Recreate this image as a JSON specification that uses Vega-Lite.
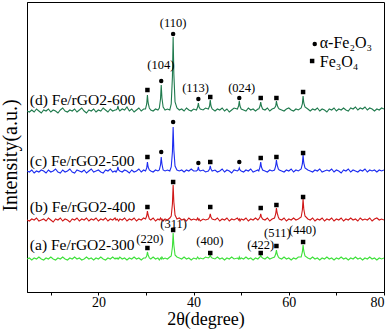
{
  "$schema": "https://vega.github.io/schema/vega-lite/v6.json",
  "width": 357,
  "height": 290,
  "autosize": {"type": "none"},
  "padding": {"left": 27, "top": 2, "right": 8, "bottom": 37},
  "background": "white",
  "config": {
    "view": {"stroke": "black", "strokeWidth": 1},
    "font": "Liberation Serif"
  },
  "datasets": {
    "xrd": [
      {"x":5.0,"a":33,"b":72,"c":121,"d":181},
      {"x":5.5,"a":34,"b":71,"c":120,"d":180},
      {"x":6.0,"a":32,"b":73,"c":122,"d":182},
      {"x":6.5,"a":34,"b":72,"c":119,"d":180},
      {"x":7.0,"a":33,"b":74,"c":121,"d":183},
      {"x":7.5,"a":35,"b":71,"c":120,"d":181},
      {"x":8.0,"a":33,"b":72,"c":122,"d":179},
      {"x":8.5,"a":32,"b":73,"c":121,"d":182},
      {"x":9.0,"a":34,"b":71,"c":119,"d":181},
      {"x":9.5,"a":33,"b":74,"c":122,"d":183},
      {"x":10.0,"a":35,"b":72,"c":120,"d":180},
      {"x":10.5,"a":33,"b":70,"c":121,"d":182},
      {"x":11.0,"a":32,"b":73,"c":123,"d":181},
      {"x":11.5,"a":34,"b":72,"c":120,"d":179},
      {"x":12.0,"a":33,"b":74,"c":119,"d":182},
      {"x":12.5,"a":35,"b":71,"c":122,"d":184},
      {"x":13.0,"a":33,"b":73,"c":120,"d":181},
      {"x":13.5,"a":32,"b":72,"c":121,"d":180},
      {"x":14.0,"a":34,"b":70,"c":123,"d":182},
      {"x":14.5,"a":33,"b":73,"c":120,"d":181},
      {"x":15.0,"a":35,"b":72,"c":119,"d":183},
      {"x":15.5,"a":33,"b":74,"c":122,"d":180},
      {"x":16.0,"a":34,"b":71,"c":121,"d":182},
      {"x":16.5,"a":32,"b":73,"c":120,"d":184},
      {"x":17.0,"a":33,"b":72,"c":122,"d":181},
      {"x":17.5,"a":35,"b":74,"c":119,"d":179},
      {"x":18.0,"a":33,"b":71,"c":121,"d":182},
      {"x":18.5,"a":34,"b":73,"c":123,"d":181},
      {"x":19.0,"a":32,"b":72,"c":120,"d":183},
      {"x":19.5,"a":34,"b":74,"c":121,"d":180},
      {"x":20.0,"a":33,"b":71,"c":122,"d":182},
      {"x":20.5,"a":35,"b":73,"c":120,"d":181},
      {"x":21.0,"a":33,"b":72,"c":119,"d":184},
      {"x":21.5,"a":32,"b":74,"c":122,"d":182},
      {"x":22.0,"a":34,"b":71,"c":121,"d":180},
      {"x":22.5,"a":33,"b":73,"c":123,"d":183},
      {"x":23.0,"a":35,"b":72,"c":120,"d":181},
      {"x":23.5,"a":33,"b":74,"c":121,"d":182},
      {"x":23.7,"a":34,"b":72,"c":120,"d":182},
      {"x":23.95,"a":33,"b":73,"c":122,"d":183},
      {"x":24.1,"a":34,"b":72,"c":125,"d":186},
      {"x":24.25,"a":33,"b":71,"c":122,"d":183},
      {"x":24.5,"a":35,"b":73,"c":121,"d":181},
      {"x":25.0,"a":33,"b":72,"c":120,"d":183},
      {"x":25.5,"a":34,"b":74,"c":122,"d":182},
      {"x":26.0,"a":32,"b":71,"c":121,"d":185},
      {"x":26.5,"a":34,"b":73,"c":119,"d":181},
      {"x":27.0,"a":33,"b":72,"c":122,"d":183},
      {"x":27.5,"a":35,"b":74,"c":120,"d":180},
      {"x":28.0,"a":33,"b":71,"c":121,"d":182},
      {"x":28.5,"a":34,"b":73,"c":123,"d":184},
      {"x":29.0,"a":32,"b":72,"c":120,"d":181},
      {"x":29.5,"a":34,"b":74,"c":122,"d":183},
      {"x":29.9,"a":34,"b":73,"c":121,"d":183},
      {"x":30.15,"a":36,"b":76,"c":124,"d":188},
      {"x":30.3,"a":40,"b":81,"c":130,"d":197},
      {"x":30.45,"a":37,"b":77,"c":125,"d":189},
      {"x":30.7,"a":34,"b":73,"c":122,"d":184},
      {"x":31.0,"a":33,"b":72,"c":121,"d":182},
      {"x":31.5,"a":35,"b":74,"c":120,"d":181},
      {"x":32.0,"a":33,"b":71,"c":122,"d":183},
      {"x":32.5,"a":34,"b":73,"c":121,"d":182},
      {"x":32.8,"a":32,"b":72,"c":122,"d":184},
      {"x":33.05,"a":34,"b":74,"c":127,"d":193},
      {"x":33.2,"a":33,"b":72,"c":135,"d":207},
      {"x":33.35,"a":35,"b":73,"c":128,"d":194},
      {"x":33.6,"a":33,"b":71,"c":122,"d":185},
      {"x":34.0,"a":34,"b":73,"c":121,"d":182},
      {"x":34.5,"a":33,"b":72,"c":122,"d":183},
      {"x":35.0,"a":35,"b":74,"c":121,"d":182},
      {"x":35.3,"a":36,"b":76,"c":125,"d":188},
      {"x":35.55,"a":45,"b":88,"c":140,"d":215},
      {"x":35.7,"a":59,"b":107,"c":165,"d":255},
      {"x":35.85,"a":47,"b":90,"c":142,"d":218},
      {"x":36.1,"a":37,"b":77,"c":126,"d":190},
      {"x":36.5,"a":35,"b":73,"c":122,"d":184},
      {"x":37.0,"a":34,"b":74,"c":121,"d":182},
      {"x":37.5,"a":33,"b":72,"c":122,"d":183},
      {"x":38.0,"a":35,"b":73,"c":120,"d":181},
      {"x":38.5,"a":33,"b":71,"c":122,"d":184},
      {"x":39.0,"a":34,"b":74,"c":121,"d":182},
      {"x":39.5,"a":32,"b":72,"c":123,"d":181},
      {"x":40.0,"a":34,"b":73,"c":121,"d":183},
      {"x":40.6,"a":33,"b":72,"c":121,"d":182},
      {"x":40.85,"a":35,"b":74,"c":122,"d":185},
      {"x":41.0,"a":34,"b":72,"c":125,"d":189},
      {"x":41.15,"a":33,"b":73,"c":122,"d":185},
      {"x":41.4,"a":34,"b":71,"c":121,"d":183},
      {"x":42.0,"a":33,"b":73,"c":122,"d":182},
      {"x":42.5,"a":35,"b":72,"c":120,"d":184},
      {"x":43.1,"a":34,"b":73,"c":121,"d":183},
      {"x":43.35,"a":35,"b":75,"c":123,"d":186},
      {"x":43.5,"a":37,"b":78,"c":126,"d":192},
      {"x":43.65,"a":35,"b":75,"c":123,"d":186},
      {"x":43.9,"a":34,"b":73,"c":121,"d":183},
      {"x":44.5,"a":33,"b":72,"c":122,"d":181},
      {"x":45.0,"a":35,"b":74,"c":120,"d":183},
      {"x":45.5,"a":33,"b":71,"c":121,"d":182},
      {"x":46.0,"a":34,"b":73,"c":123,"d":184},
      {"x":46.5,"a":32,"b":72,"c":120,"d":181},
      {"x":47.0,"a":34,"b":74,"c":122,"d":183},
      {"x":47.5,"a":33,"b":71,"c":121,"d":180},
      {"x":48.0,"a":35,"b":73,"c":119,"d":182},
      {"x":48.5,"a":33,"b":72,"c":122,"d":184},
      {"x":49.2,"a":34,"b":74,"c":121,"d":183},
      {"x":49.45,"a":33,"b":72,"c":122,"d":186},
      {"x":49.6,"a":35,"b":73,"c":124,"d":191},
      {"x":49.75,"a":33,"b":71,"c":122,"d":186},
      {"x":50.0,"a":34,"b":73,"c":121,"d":183},
      {"x":50.5,"a":33,"b":72,"c":120,"d":182},
      {"x":51.0,"a":35,"b":74,"c":122,"d":181},
      {"x":51.5,"a":33,"b":71,"c":121,"d":184},
      {"x":52.0,"a":34,"b":73,"c":123,"d":182},
      {"x":52.5,"a":32,"b":72,"c":120,"d":183},
      {"x":53.0,"a":34,"b":74,"c":121,"d":181},
      {"x":53.5,"a":33,"b":72,"c":122,"d":183},
      {"x":53.7,"a":34,"b":73,"c":121,"d":183},
      {"x":53.95,"a":35,"b":75,"c":125,"d":186},
      {"x":54.1,"a":37,"b":78,"c":130,"d":190},
      {"x":54.25,"a":35,"b":75,"c":125,"d":186},
      {"x":54.5,"a":34,"b":73,"c":122,"d":183},
      {"x":55.0,"a":33,"b":72,"c":121,"d":182},
      {"x":55.5,"a":35,"b":74,"c":120,"d":184},
      {"x":56.0,"a":33,"b":71,"c":122,"d":181},
      {"x":56.5,"a":34,"b":73,"c":121,"d":183},
      {"x":57.0,"a":35,"b":74,"c":122,"d":184},
      {"x":57.25,"a":38,"b":78,"c":126,"d":186},
      {"x":57.4,"a":42,"b":84,"c":132,"d":191},
      {"x":57.55,"a":38,"b":79,"c":127,"d":187},
      {"x":57.8,"a":35,"b":75,"c":123,"d":184},
      {"x":58.0,"a":34,"b":73,"c":122,"d":183},
      {"x":58.5,"a":33,"b":72,"c":121,"d":182},
      {"x":59.0,"a":35,"b":74,"c":120,"d":181},
      {"x":59.5,"a":33,"b":71,"c":122,"d":183},
      {"x":60.0,"a":34,"b":73,"c":121,"d":184},
      {"x":60.5,"a":32,"b":72,"c":123,"d":182},
      {"x":61.0,"a":34,"b":74,"c":120,"d":181},
      {"x":61.5,"a":33,"b":72,"c":122,"d":183},
      {"x":62.0,"a":35,"b":73,"c":121,"d":182},
      {"x":62.6,"a":35,"b":75,"c":123,"d":184},
      {"x":62.85,"a":40,"b":82,"c":128,"d":188},
      {"x":63.0,"a":47,"b":93,"c":137,"d":196},
      {"x":63.15,"a":41,"b":83,"c":129,"d":189},
      {"x":63.4,"a":36,"b":76,"c":124,"d":185},
      {"x":64.0,"a":34,"b":73,"c":122,"d":183},
      {"x":64.5,"a":33,"b":72,"c":121,"d":181},
      {"x":65.0,"a":35,"b":74,"c":120,"d":183},
      {"x":65.5,"a":33,"b":71,"c":122,"d":182},
      {"x":66.0,"a":34,"b":73,"c":121,"d":184},
      {"x":66.5,"a":32,"b":72,"c":123,"d":181},
      {"x":67.0,"a":34,"b":74,"c":120,"d":183},
      {"x":67.5,"a":33,"b":71,"c":121,"d":182},
      {"x":68.0,"a":35,"b":73,"c":122,"d":180},
      {"x":68.5,"a":33,"b":72,"c":121,"d":183},
      {"x":69.0,"a":34,"b":74,"c":123,"d":182},
      {"x":69.5,"a":32,"b":71,"c":120,"d":184},
      {"x":70.0,"a":34,"b":73,"c":122,"d":181},
      {"x":70.5,"a":33,"b":72,"c":121,"d":183},
      {"x":71.0,"a":35,"b":74,"c":119,"d":182},
      {"x":71.5,"a":33,"b":71,"c":122,"d":184},
      {"x":72.0,"a":34,"b":73,"c":121,"d":182},
      {"x":72.5,"a":32,"b":72,"c":123,"d":181},
      {"x":73.0,"a":34,"b":74,"c":120,"d":184},
      {"x":73.5,"a":33,"b":72,"c":122,"d":183},
      {"x":74.0,"a":35,"b":73,"c":121,"d":185},
      {"x":74.5,"a":33,"b":71,"c":120,"d":182},
      {"x":75.0,"a":34,"b":74,"c":122,"d":184},
      {"x":75.5,"a":32,"b":72,"c":121,"d":183},
      {"x":76.0,"a":34,"b":73,"c":123,"d":185},
      {"x":76.5,"a":33,"b":72,"c":120,"d":182},
      {"x":77.0,"a":35,"b":74,"c":122,"d":184},
      {"x":77.5,"a":33,"b":71,"c":121,"d":183},
      {"x":78.0,"a":34,"b":73,"c":122,"d":181},
      {"x":78.5,"a":32,"b":74,"c":120,"d":183},
      {"x":79.0,"a":34,"b":72,"c":122,"d":182},
      {"x":79.5,"a":33,"b":73,"c":121,"d":184},
      {"x":80.0,"a":34,"b":72,"c":122,"d":183}
    ],
    "markers": [
      {"x":30.3,"y":202,"m":"Fe3O4"},
      {"x":33.2,"y":211,"m":"Fe2O3"},
      {"x":35.7,"y":258,"m":"Fe2O3"},
      {"x":41.0,"y":193,"m":"Fe2O3"},
      {"x":43.5,"y":195,"m":"Fe3O4"},
      {"x":49.6,"y":194,"m":"Fe2O3"},
      {"x":54.1,"y":194,"m":"Fe3O4"},
      {"x":57.4,"y":194,"m":"Fe3O4"},
      {"x":63.0,"y":200,"m":"Fe3O4"},
      {"x":30.3,"y":135,"m":"Fe3O4"},
      {"x":33.2,"y":140,"m":"Fe2O3"},
      {"x":35.7,"y":170,"m":"Fe2O3"},
      {"x":41.0,"y":129,"m":"Fe2O3"},
      {"x":43.5,"y":130,"m":"Fe3O4"},
      {"x":49.6,"y":130,"m":"Fe2O3"},
      {"x":54.1,"y":134,"m":"Fe3O4"},
      {"x":57.4,"y":135,"m":"Fe3O4"},
      {"x":63.0,"y":139,"m":"Fe3O4"},
      {"x":30.3,"y":85,"m":"Fe3O4"},
      {"x":35.7,"y":110,"m":"Fe3O4"},
      {"x":43.5,"y":85,"m":"Fe3O4"},
      {"x":54.1,"y":84,"m":"Fe3O4"},
      {"x":57.4,"y":87,"m":"Fe3O4"},
      {"x":63.0,"y":95,"m":"Fe3O4"},
      {"x":30.3,"y":44,"m":"Fe3O4"},
      {"x":35.7,"y":62,"m":"Fe3O4"},
      {"x":43.5,"y":39,"m":"Fe3O4"},
      {"x":54.1,"y":39,"m":"Fe3O4"},
      {"x":57.4,"y":46,"m":"Fe3O4"},
      {"x":63.0,"y":50,"m":"Fe3O4"},
      {"x":65.45,"y":248,"m":"Fe2O3"},
      {"x":64.9,"y":231,"m":"Fe3O4"}
    ],
    "hkl": [
      {"x":35.7,"y":269,"t":"(110)"},
      {"x":33.1,"y":227,"t":"(104)"},
      {"x":40.4,"y":204,"t":"(113)"},
      {"x":50.1,"y":204,"t":"(024)"},
      {"x":35.8,"y":68,"t":"(311)"},
      {"x":30.8,"y":53,"t":"(220)"},
      {"x":43.4,"y":51,"t":"(400)"},
      {"x":54.1,"y":47,"t":"(422)"},
      {"x":57.6,"y":59,"t":"(511)"},
      {"x":62.9,"y":62,"t":"(440)"}
    ],
    "samples": [
      {"x":5.6,"y":192,"t":"(d) Fe/rGO2-600"},
      {"x":5.6,"y":131,"t":"(c) Fe/rGO2-500"},
      {"x":5.6,"y":85,"t":"(b) Fe/rGO2-400"},
      {"x":5.6,"y":47,"t":"(a) Fe/rGO2-300"}
    ],
    "legend": [
      {"x":66.5,"y":249,"t":"α-Fe₂O₃"},
      {"x":66.5,"y":230,"t":"Fe₃O₄"}
    ]
  },
  "layer": [
    {
      "data": {"name": "xrd"},
      "transform": [{"fold": ["a", "b", "c", "d"], "as": ["s", "v"]}],
      "mark": {"type": "line", "strokeWidth": 1.1, "clip": true},
      "encoding": {
        "x": {
          "field": "x", "type": "quantitative",
          "scale": {"domain": [5, 80], "nice": false, "zero": false},
          "axis": {
            "values": [10, 20, 30, 40, 50, 60, 70, 80],
            "labelExpr": "datum.value % 20 == 0 ? datum.label : ''",
            "grid": false,
            "domainColor": "black",
            "tickColor": "black",
            "tickSize": 3,
            "labelPadding": 0,
            "labelFontSize": 14,
            "labelColor": "black",
            "labelFont": "Liberation Serif",
            "title": "2θ(degree)",
            "titleFont": "Liberation Serif",
            "titleFontSize": 18,
            "titleFontWeight": "normal",
            "titleColor": "black",
            "titleBaseline": "alphabetic",
            "titleY": 32
          }
        },
        "y": {
          "field": "v", "type": "quantitative",
          "scale": {"domain": [0, 290], "nice": false},
          "axis": {
            "grid": false,
            "ticks": false,
            "labels": false,
            "domainColor": "black",
            "title": "Intensity(a.u.)",
            "titleFont": "Liberation Serif",
            "titleFontSize": 20,
            "titleFontWeight": "normal",
            "titleColor": "black",
            "titleBaseline": "alphabetic",
            "titleAlign": "center",
            "titleX": -11,
            "titleY": 153
          }
        },
        "color": {
          "field": "s", "type": "nominal",
          "scale": {"domain": ["a", "b", "c", "d"], "range": ["#3ee03a", "#d01818", "#1c2cf0", "#1f7a4d"]},
          "legend": null
        }
      }
    },
    {
      "data": {"name": "markers"},
      "mark": {"type": "point", "filled": true, "color": "black", "opacity": 1, "size": 20},
      "encoding": {
        "x": {"field": "x", "type": "quantitative"},
        "y": {"field": "y", "type": "quantitative"},
        "shape": {"field": "m", "type": "nominal", "scale": {"domain": ["Fe2O3", "Fe3O4"], "range": ["circle", "square"]}, "legend": null}
      }
    },
    {
      "data": {"name": "hkl"},
      "mark": {"type": "text", "font": "Liberation Serif", "fontSize": 12.5, "color": "black", "baseline": "middle", "align": "center"},
      "encoding": {
        "x": {"field": "x", "type": "quantitative"},
        "y": {"field": "y", "type": "quantitative"},
        "text": {"field": "t"}
      }
    },
    {
      "data": {"name": "samples"},
      "mark": {"type": "text", "font": "Liberation Serif", "fontSize": 15.5, "color": "black", "baseline": "middle", "align": "left"},
      "encoding": {
        "x": {"field": "x", "type": "quantitative"},
        "y": {"field": "y", "type": "quantitative"},
        "text": {"field": "t"}
      }
    },
    {
      "data": {"name": "legend"},
      "mark": {"type": "text", "font": "Liberation Serif", "fontSize": 16, "color": "black", "baseline": "middle", "align": "left"},
      "encoding": {
        "x": {"field": "x", "type": "quantitative"},
        "y": {"field": "y", "type": "quantitative"},
        "text": {"field": "t"}
      }
    }
  ]
}
